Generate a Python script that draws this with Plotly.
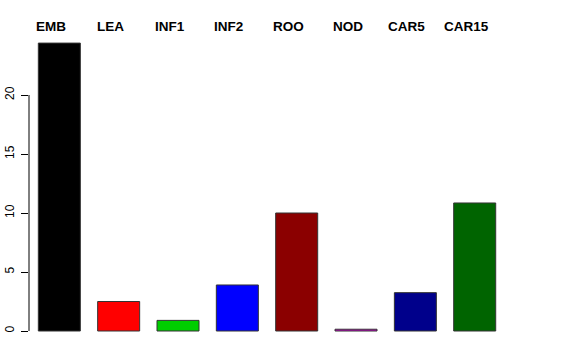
import plotly.graph_objects as go

categories = ["EMB", "LEA", "INF1", "INF2", "ROO", "NOD", "CAR5", "CAR15"]
values = [24.4, 2.5, 0.9, 3.9, 10.0, 0.15, 3.25, 10.85]
colors = ["#000000", "#FF0000", "#00CD00", "#0000FF", "#8B0000", "#CD00CD", "#00008B", "#006400"]
y_ticks = [0, 5, 10, 15, 20]

xpos = list(range(len(categories)))

fig = go.Figure()
fig.add_trace(go.Bar(
    x=xpos, y=values,
    marker=dict(color=colors, line=dict(color="#333333", width=1)),
    showlegend=False, hoverinfo="skip",
))

for i, c in enumerate(categories):
    fig.add_annotation(
        x=xpos[i], y=1, xref="x", yref="paper", yanchor="bottom",
        yshift=-4, xshift=-8.5,
        text="<b>%s</b>" % c, showarrow=False,
        font=dict(family="Liberation Sans, Arial", size=13.5, color="black"),
    )

# R-style axis line spanning only first to last tick
fig.add_shape(type="line", xref="paper", yref="y", x0=0, x1=0,
              y0=min(y_ticks), y1=max(y_ticks),
              line=dict(color="black", width=1))

fig.update_layout(
    width=576, height=360,
    margin=dict(l=29, r=20, t=32, b=18, autoexpand=False),
    plot_bgcolor="white", paper_bgcolor="white",
    bargap=0.292,
    xaxis=dict(range=[-0.511, 8.37], showgrid=False, zeroline=False,
               showticklabels=False, ticks="", showline=False, automargin=False),
    yaxis=dict(range=[-0.932, 25.34], showgrid=False, zeroline=False,
               showline=False, tickvals=y_ticks, ticktext=[str(t) for t in y_ticks],
               ticks="outside", ticklen=7, tickcolor="black", tickwidth=1,
               tickangle=-90, ticklabelstandoff=2, automargin=False,
               tickfont=dict(family="Liberation Sans, Arial", size=12, color="black")),
    font=dict(family="Liberation Sans, Arial"),
)

fig.write_html("out.html")
